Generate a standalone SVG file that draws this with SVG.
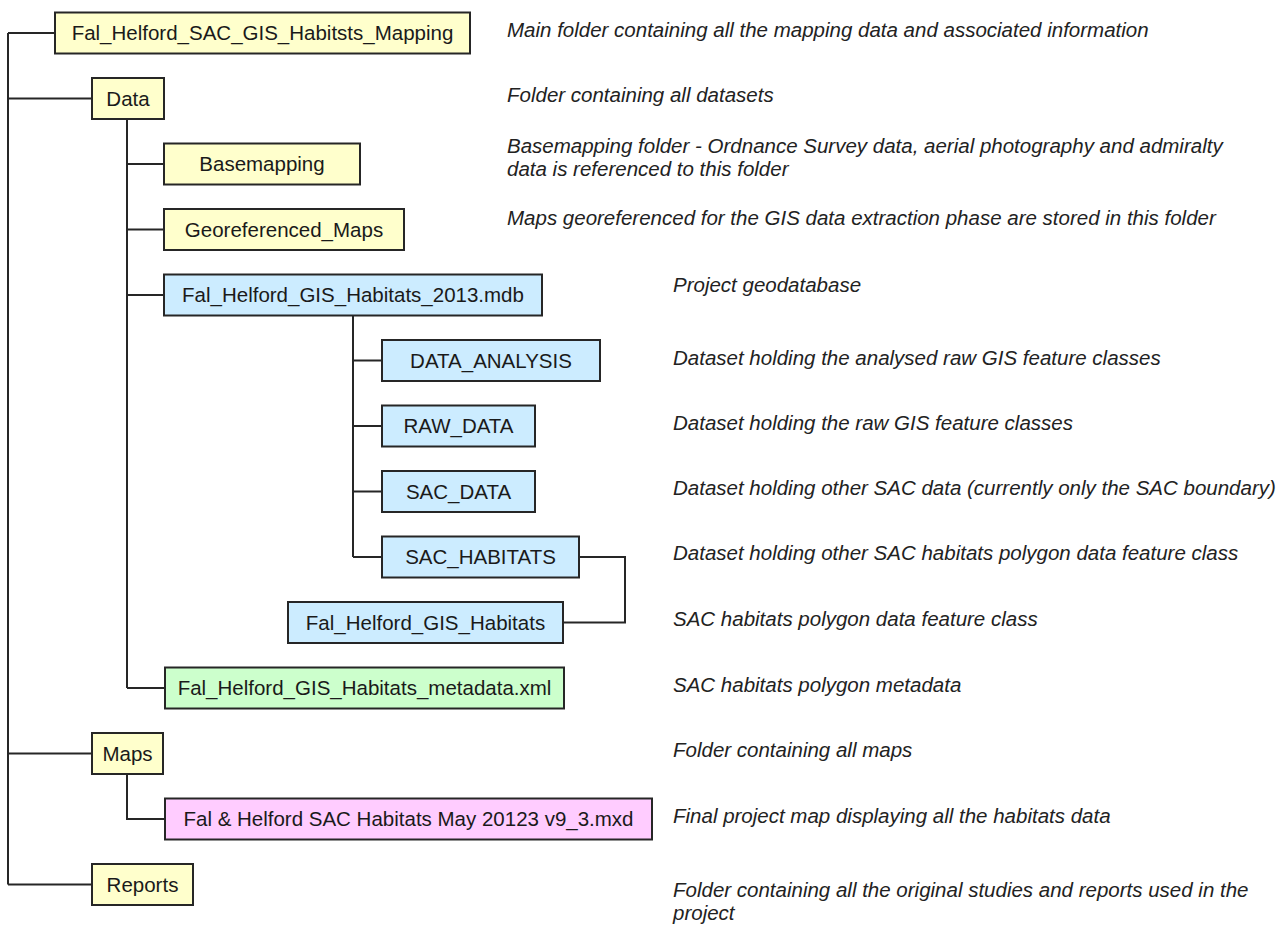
<svg xmlns="http://www.w3.org/2000/svg" width="1288" height="925" viewBox="0 0 1288 925">
<style>
.box{stroke:#262626;stroke-width:2}
.y{fill:#FFFFCC}
.b{fill:#CCECFF}
.g{fill:#CCFFCC}
.p{fill:#FFCCFF}
.lbl{font-family:"Liberation Sans",Arial,sans-serif;font-size:20.5px;fill:#1a1a1a;text-anchor:middle}
.desc{font-family:"Liberation Sans",Arial,sans-serif;font-size:20.5px;font-style:italic;fill:#222}
.conn{fill:none;stroke:#262626;stroke-width:2}
</style>
<rect width="1288" height="925" fill="#fff"/>
<g id="connectors" class="conn">
<path d="M8,33 V884.5 M8,33 H55 M8,98.5 H92 M8,753.5 H92 M8,884.5 H92"/>
<path d="M127,119 V688 M127,164 H164 M127,229.5 H164 M127,295 H164 M127,688 H165"/>
<path d="M353,315.5 V557 M353,360.5 H382 M353,426 H382 M353,491.5 H382 M353,557 H382"/>
<path d="M579,557 H625 V622.5 H563"/>
<path d="M127,774 V819 H165"/>
</g>
<g id="n-main"><rect class="box y" x="55" y="12.5" width="415" height="41"/><text class="lbl" x="262.5" y="40">Fal_Helford_SAC_GIS_Habitsts_Mapping</text></g>
<g id="n-data"><rect class="box y" x="92" y="78" width="72" height="41"/><text class="lbl" x="128" y="105.5">Data</text></g>
<g id="n-basemapping"><rect class="box y" x="164" y="143.5" width="196" height="41"/><text class="lbl" x="262" y="171">Basemapping</text></g>
<g id="n-georef"><rect class="box y" x="164" y="209" width="240" height="41"/><text class="lbl" x="284" y="236.5">Georeferenced_Maps</text></g>
<g id="n-mdb"><rect class="box b" x="164" y="274.5" width="378" height="41"/><text class="lbl" x="353" y="302">Fal_Helford_GIS_Habitats_2013.mdb</text></g>
<g id="n-analysis"><rect class="box b" x="382" y="340" width="218" height="41"/><text class="lbl" x="491" y="367.5">DATA_ANALYSIS</text></g>
<g id="n-raw"><rect class="box b" x="382" y="405.5" width="153" height="41"/><text class="lbl" x="458.5" y="433">RAW_DATA</text></g>
<g id="n-sacdata"><rect class="box b" x="382" y="471" width="153" height="41"/><text class="lbl" x="458.5" y="498.5">SAC_DATA</text></g>
<g id="n-sachab"><rect class="box b" x="382" y="536.5" width="197" height="41"/><text class="lbl" x="480.5" y="564">SAC_HABITATS</text></g>
<g id="n-fc"><rect class="box b" x="288" y="602" width="275" height="41"/><text class="lbl" x="425.5" y="629.5">Fal_Helford_GIS_Habitats</text></g>
<g id="n-meta"><rect class="box g" x="165" y="667.5" width="399" height="41"/><text class="lbl" x="364.5" y="695">Fal_Helford_GIS_Habitats_metadata.xml</text></g>
<g id="n-maps"><rect class="box y" x="92" y="733" width="71" height="41"/><text class="lbl" x="127.5" y="760.5">Maps</text></g>
<g id="n-mxd"><rect class="box p" x="165" y="798.5" width="487" height="41"/><text class="lbl" x="408.5" y="826">Fal &amp; Helford SAC Habitats May 20123 v9_3.mxd</text></g>
<g id="n-reports"><rect class="box y" x="92" y="864" width="101" height="41"/><text class="lbl" x="142.5" y="891.5">Reports</text></g>
<g id="descriptions" class="desc">
<text x="507" y="37">Main folder containing all the mapping data and associated information</text>
<text x="507" y="102">Folder containing all datasets</text>
<text x="507" y="153">Basemapping folder - Ordnance Survey data, aerial photography and admiralty</text>
<text x="507" y="176">data is referenced to this folder</text>
<text x="507" y="225">Maps georeferenced for the GIS data extraction phase are stored in this folder</text>
<text x="673" y="292">Project geodatabase</text>
<text x="673" y="365">Dataset holding the analysed raw GIS feature classes</text>
<text x="673" y="430">Dataset holding the raw GIS feature classes</text>
<text x="673" y="495">Dataset holding other SAC data (currently only the SAC boundary)</text>
<text x="673" y="560">Dataset holding other SAC habitats polygon data feature class</text>
<text x="673" y="626">SAC habitats polygon data feature class</text>
<text x="673" y="692">SAC habitats polygon metadata</text>
<text x="673" y="757">Folder containing all maps</text>
<text x="673" y="823">Final project map displaying all the habitats data</text>
<text x="673" y="897">Folder containing all the original studies and reports used in the</text>
<text x="673" y="920">project</text>
</g>
</svg>
